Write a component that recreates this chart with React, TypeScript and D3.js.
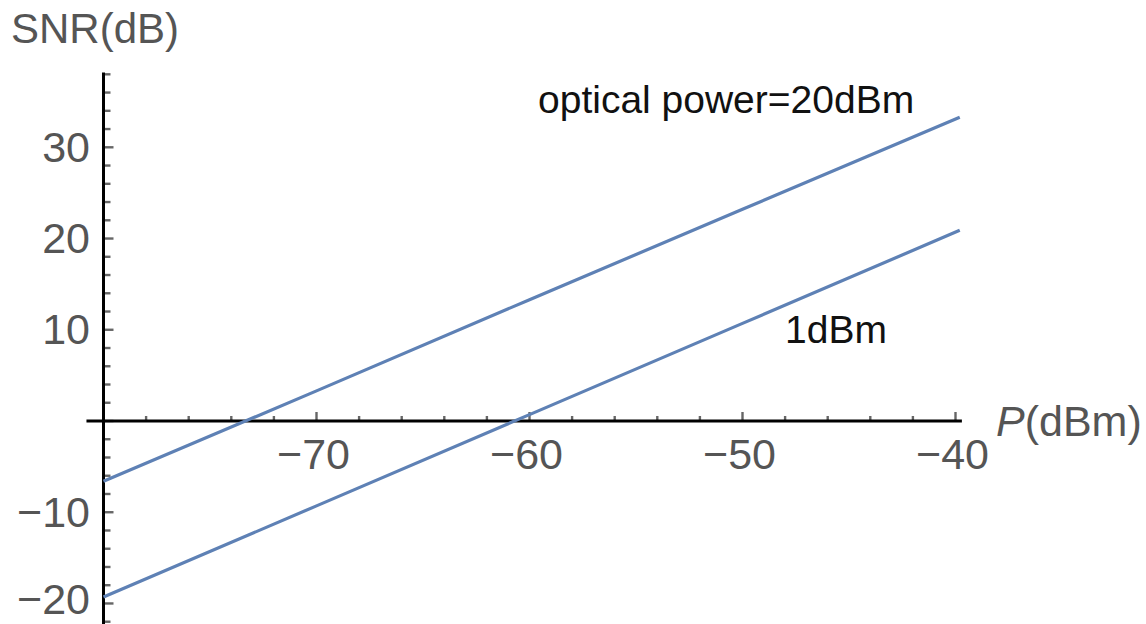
import { useRef, useEffect } from 'react'
import * as d3 from 'd3'

// P(dBm) sample points and SNR(dB)
const powerDbm = [-80, -70, -60, -50, -39.8]
const snrHigh = [-6.6, 3.3, 13.3, 23.2, 33.3]
const snrLow = [-19.3, -9.3, 0.7, 10.7, 20.9]

const xMajorTicks = [-70, -60, -50, -40]
const yMajorTicks = [-20, -10, 10, 20, 30]
const curveLabels = ['optical power=20dBm', '1dBm']

const width = 1146
const height = 624
const lineColor = '#5e81b5'
const labelGray = '#555'
const font = '"Liberation Sans", Arial, sans-serif'

export default function App() {
    const ref = useRef<SVGSVGElement | null>(null)

    useEffect(() => {
        if (!ref.current) return
        const svg = d3.select(ref.current)
        svg.selectAll('*').remove()

        const x = d3.scaleLinear().domain([-80, -40]).range([103.5, 955.5])
        const y = d3.scaleLinear().domain([0, 30]).range([421, 147.3])

        // minor ticks every 2
        const xMinor = d3.range(-78, -40, 2).filter((v) => v % 10 !== 0)
        const yMinor = d3.range(-22, 39, 2).filter((v) => v % 10 !== 0)

        const g = svg.append('g')

        // x ticks (pointing up)
        g.selectAll('line.xminor')
            .data(xMinor)
            .enter()
            .append('line')
            .attr('x1', (d) => x(d))
            .attr('x2', (d) => x(d))
            .attr('y1', y(0))
            .attr('y2', y(0) - 5)
            .attr('stroke', '#666')
            .attr('stroke-width', 2.4)

        g.selectAll('line.xmajor')
            .data(xMajorTicks)
            .enter()
            .append('line')
            .attr('x1', (d) => x(d))
            .attr('x2', (d) => x(d))
            .attr('y1', y(0))
            .attr('y2', y(0) - 9)
            .attr('stroke', '#666')
            .attr('stroke-width', 2.4)

        // y ticks (pointing right)
        g.selectAll('line.yminor')
            .data(yMinor)
            .enter()
            .append('line')
            .attr('x1', x(-80))
            .attr('x2', x(-80) + 7)
            .attr('y1', (d) => y(d))
            .attr('y2', (d) => y(d))
            .attr('stroke', '#666')
            .attr('stroke-width', 2.4)

        g.selectAll('line.ymajor')
            .data([0, ...yMajorTicks])
            .enter()
            .append('line')
            .attr('x1', x(-80))
            .attr('x2', x(-80) + 10)
            .attr('y1', (d) => y(d))
            .attr('y2', (d) => y(d))
            .attr('stroke', '#666')
            .attr('stroke-width', 2.4)

        // axes
        g.append('line')
            .attr('x1', x(-80.8))
            .attr('x2', x(-39.7))
            .attr('y1', y(0))
            .attr('y2', y(0))
            .attr('stroke', '#000')
            .attr('stroke-width', 3)

        g.append('line')
            .attr('x1', x(-80))
            .attr('x2', x(-80))
            .attr('y1', y(38.2))
            .attr('y2', height)
            .attr('stroke', '#000')
            .attr('stroke-width', 3)

        // tick labels
        g.selectAll('text.xlab')
            .data(xMajorTicks)
            .enter()
            .append('text')
            .attr('x', (d) => x(d) - 3)
            .attr('y', y(0) + 48)
            .attr('text-anchor', 'middle')
            .attr('font-family', font)
            .attr('font-size', 43)
            .attr('fill', labelGray)
            .text((d) => `\u2212${Math.abs(d)}`)

        // bottom label is nudged up to stay inside the frame
        g.selectAll('text.ylab')
            .data(yMajorTicks)
            .enter()
            .append('text')
            .attr('x', 90)
            .attr('y', (d) => Math.min(y(d) + 14.5, 614))
            .attr('text-anchor', 'end')
            .attr('font-family', font)
            .attr('font-size', 43)
            .attr('fill', labelGray)
            .text((d) => (d < 0 ? `\u2212${Math.abs(d)}` : `${d}`))

        // axis labels
        g.append('text')
            .attr('x', 11)
            .attr('y', 43)
            .attr('font-family', font)
            .attr('font-size', 42)
            .attr('fill', labelGray)
            .text('SNR(dB)')

        const pLabel = g
            .append('text')
            .attr('x', 996)
            .attr('y', 436)
            .attr('font-family', font)
            .attr('font-size', 43)
            .attr('fill', labelGray)
        pLabel.append('tspan').attr('font-style', 'italic').text('P')
        pLabel.append('tspan').text('(dBm)')

        // curves
        const line = d3
            .line<number>()
            .x((_, i) => x(powerDbm[i]))
            .y((d) => y(d))

        ;[snrHigh, snrLow].forEach((series) => {
            g.append('path')
                .datum(series)
                .attr('d', line)
                .attr('fill', 'none')
                .attr('stroke', lineColor)
                .attr('stroke-width', 3.2)
        })

        // curve labels
        g.append('text')
            .attr('x', 538)
            .attr('y', 113)
            .attr('font-family', font)
            .attr('font-size', 39)
            .attr('fill', '#111')
            .text(curveLabels[0])

        g.append('text')
            .attr('x', 785)
            .attr('y', 343)
            .attr('font-family', font)
            .attr('font-size', 39)
            .attr('fill', '#111')
            .text(curveLabels[1])
    }, [])

    return (
        <div style={{ position: 'absolute', left: 0, top: 0 }}>
            <svg
                ref={ref}
                width={width}
                height={height}
                style={{ background: 'white', display: 'block' }}
            />
        </div>
    )
}
